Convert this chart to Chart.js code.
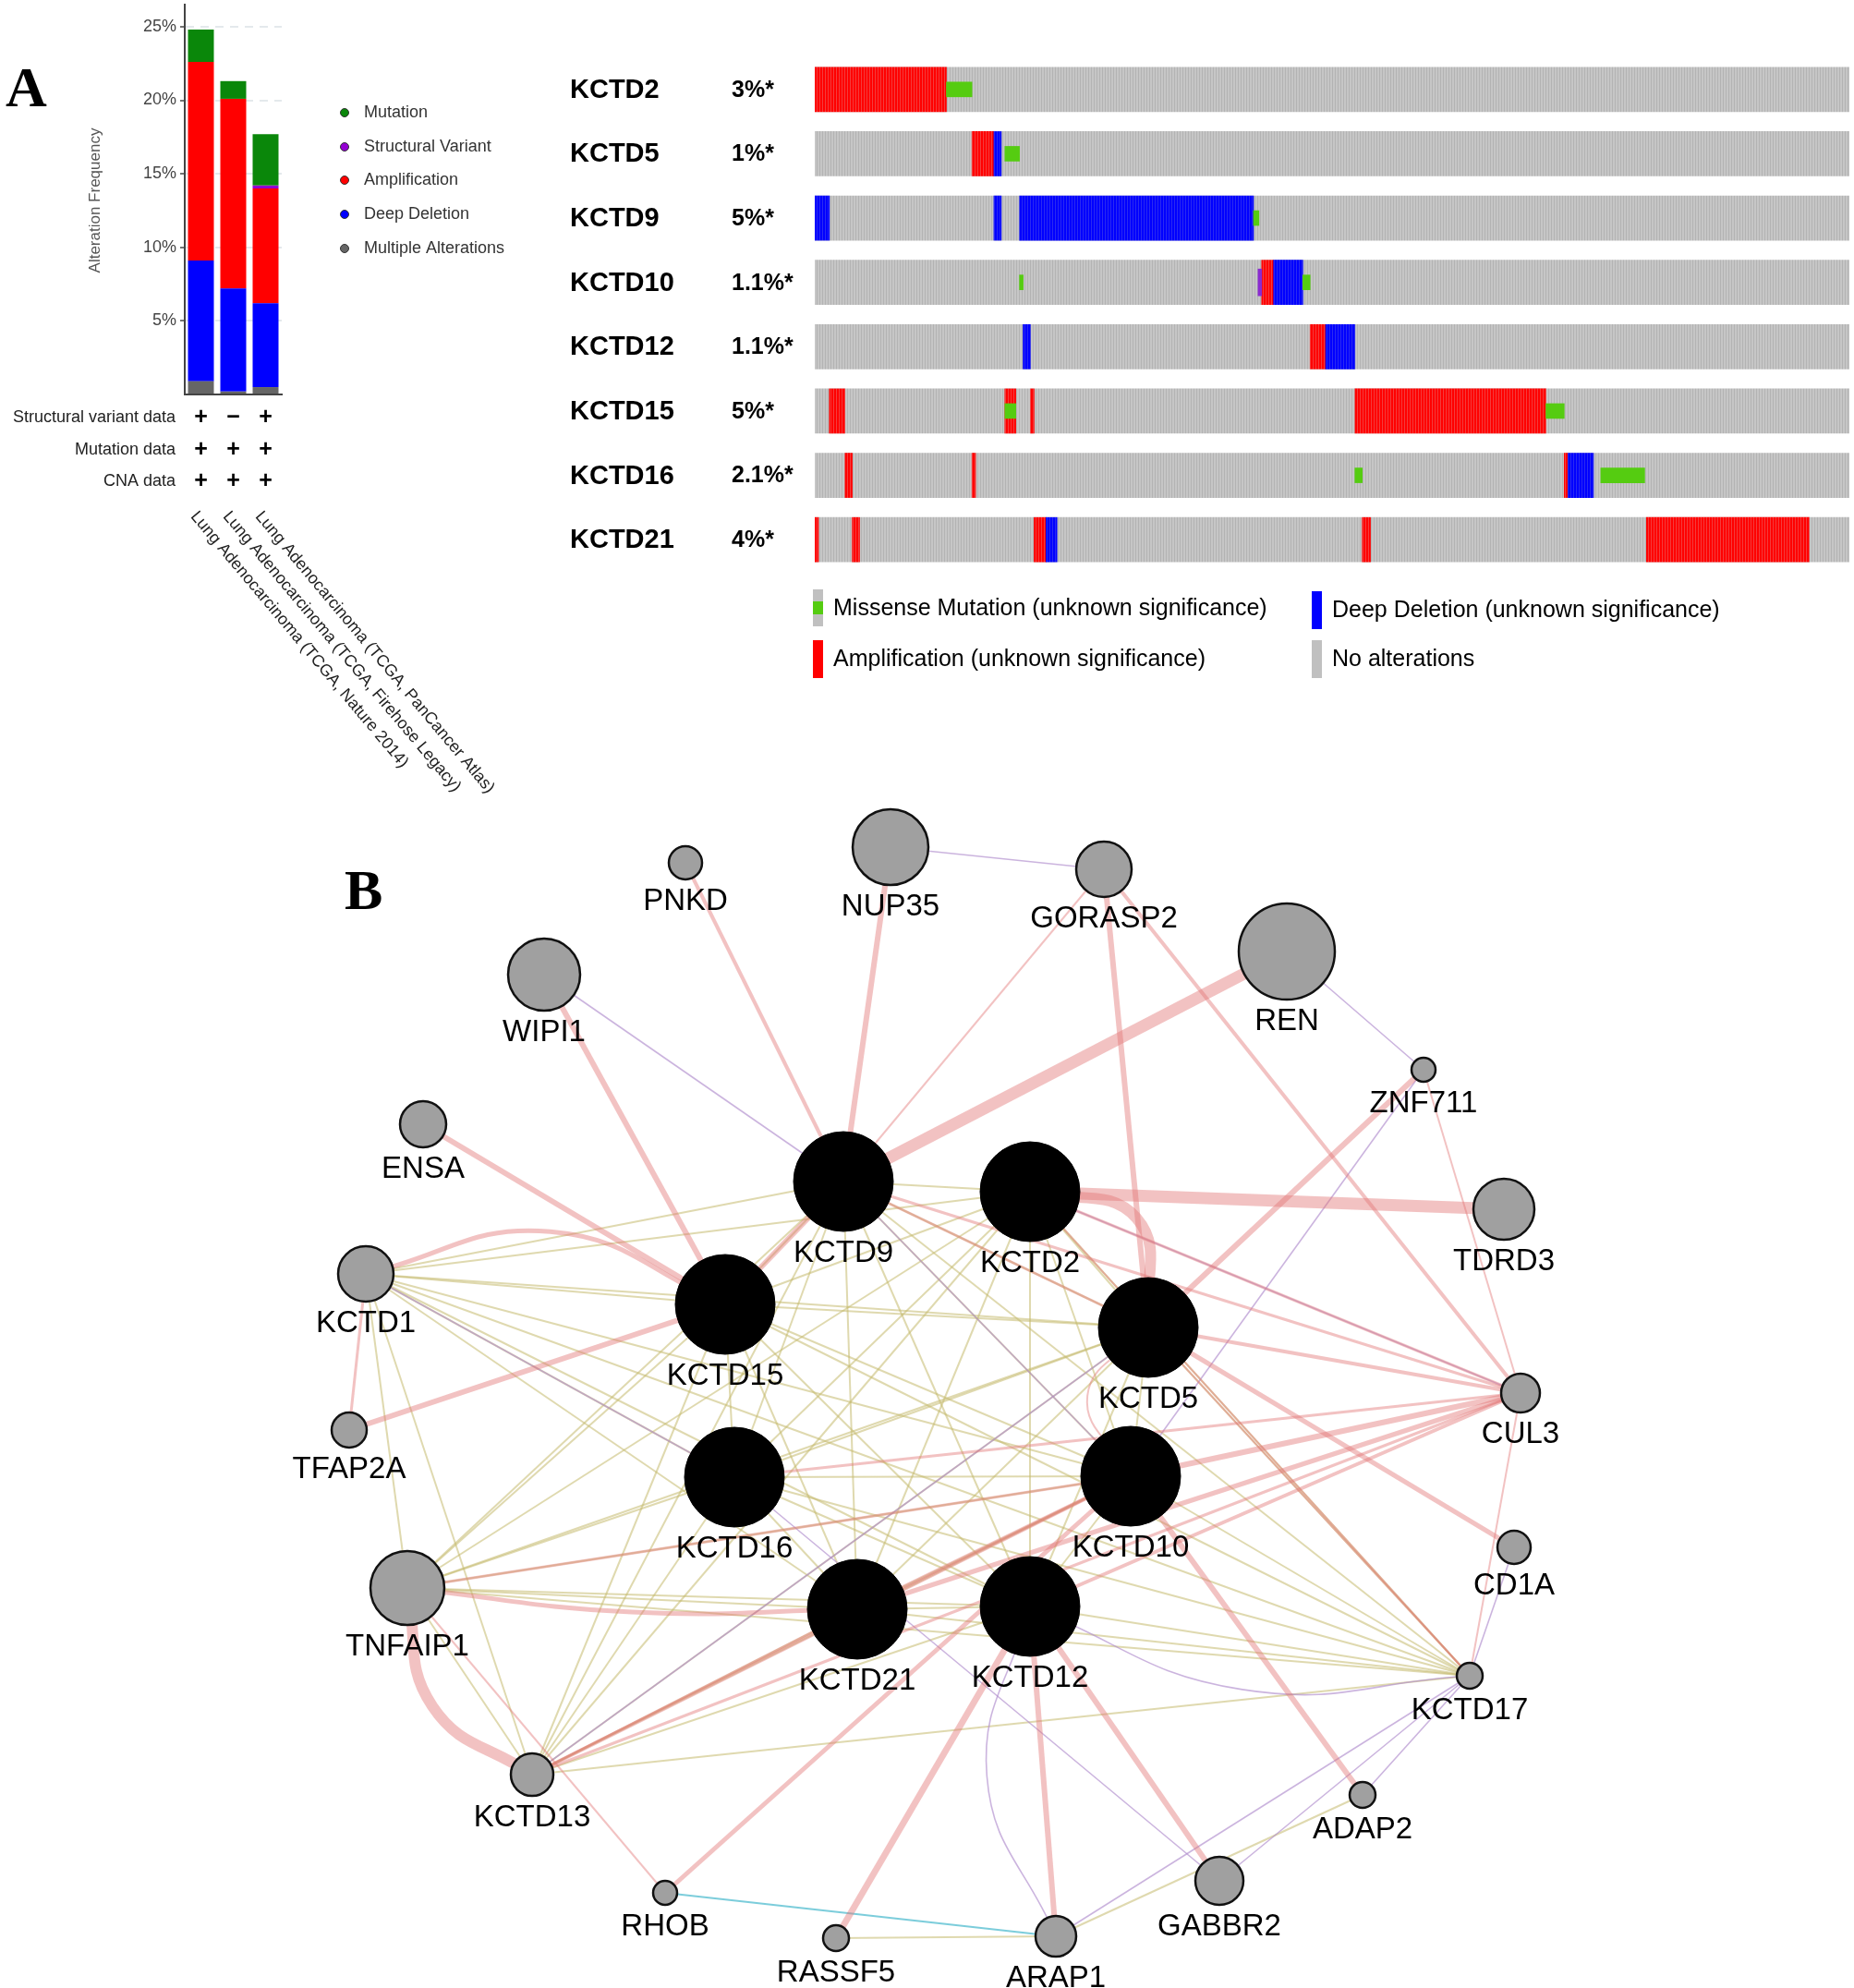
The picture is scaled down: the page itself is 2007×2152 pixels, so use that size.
<!DOCTYPE html>
<html>
<head>
<meta charset="utf-8">
<script src="https://cdn.jsdelivr.net/npm/chart.js@4.4.0/dist/chart.umd.min.js"></script>
<style>
html, body { margin: 0; padding: 0; background: #fff; }
body { width: 2007px; height: 2152px; position: relative; overflow: hidden; }
.box { position: absolute; }
</style>
</head>
<body>
<div class="box" style="left:0;top:0;width:600px;height:880px"><canvas id="freq" width="600" height="880"></canvas></div>
<div class="box" style="left:600px;top:40px;width:1407px;height:720px"><canvas id="onco" width="1407" height="720"></canvas></div>
<div class="box" style="left:300px;top:860px;width:1460px;height:1292px"><canvas id="net" width="1460" height="1292"></canvas></div>
<script>
// ---- panel A, cancer type summary ----
const studies = ['Lung Adenocarcinoma (TCGA, Nature 2014)', 'Lung Adenocarcinoma (TCGA, Firehose Legacy)', 'Lung Adenocarcinoma (TCGA, PanCancer Atlas)'];
const multipleAlt = [0.9, 0.2, 0.5];
const deepDeletion = [8.2, 7.0, 5.7];
const amplification = [13.5, 12.9, 7.8];
const structuralVariant = [0, 0, 0.2];
const mutation = [2.2, 1.2, 3.5];
const svProfiled = ['+', '-', '+'];
const mutProfiled = ['+', '+', '+'];
const cnaProfiled = ['+', '+', '+'];

// ---- panel A, oncoprint (sample index ranges, 566 samples) ----
const genes = ['KCTD2', 'KCTD5', 'KCTD9', 'KCTD10', 'KCTD12', 'KCTD15', 'KCTD16', 'KCTD21'];
const alteredPct = ['3%*', '1%*', '5%*', '1.1%*', '1.1%*', '5%*', '2.1%*', '4%*'];
const sampleCount = 566;
const ampRuns = [['KCTD2', 0, 72], ['KCTD5', 86, 98], ['KCTD10', 244.5, 251], ['KCTD12', 271, 279.5],
  ['KCTD15', 8, 16.5], ['KCTD15', 104, 110], ['KCTD15', 118, 120], ['KCTD15', 295.5, 400],
  ['KCTD16', 16.5, 20.5], ['KCTD16', 86, 88], ['KCTD16', 410, 412],
  ['KCTD21', 0, 2], ['KCTD21', 20.5, 24.5], ['KCTD21', 120, 126.5], ['KCTD21', 299.5, 304], ['KCTD21', 455, 544]];
const delRuns = [['KCTD5', 98, 102], ['KCTD9', 0, 8], ['KCTD9', 98, 102], ['KCTD9', 112, 240],
  ['KCTD10', 251, 267], ['KCTD12', 114, 118], ['KCTD12', 279.5, 295.5], ['KCTD16', 412, 426], ['KCTD21', 126.5, 132.5]];
const svRuns = [['KCTD10', 242.5, 244.5]];
const mutRuns = [['KCTD2', 72, 86], ['KCTD5', 104, 112], ['KCTD9', 240, 243], ['KCTD10', 112, 114], ['KCTD10', 267, 271],
  ['KCTD15', 104, 110], ['KCTD15', 400, 410], ['KCTD16', 295.5, 299.5], ['KCTD16', 430, 454]];

// ---- panel B, network ----
const nodeNames = ['PNKD','NUP35','GORASP2','REN','WIPI1','ZNF711','ENSA','KCTD9','KCTD2','TDRD3','KCTD1','KCTD15','KCTD5','CUL3','TFAP2A','KCTD16','KCTD10','CD1A','TNFAIP1','KCTD21','KCTD12','KCTD17','KCTD13','ADAP2','GABBR2','RHOB','RASSF5','ARAP1'];
const nodeX = [442,664,895,1093,289,1241,158,613,815,1328,96,485,943,1346,78,495,924,1339,141,628,815,1291,276,1175,1020,420,605,843];
const nodeY = [74,57,81,170,195,298,357,419,430,449,519,552,577,648,688,739,738,815,859,882,879,954,1061,1083,1176,1189,1238,1236];
const nodeScore = [18,41,30,52,39,13,25,54,54,33,30,54,54,21,19,54,54,18,40,54,54,14,23,14,26,13,14,22];

const physicalLinks = [
  ['PNKD','KCTD9',4], ['NUP35','KCTD9',6], ['WIPI1','KCTD15',6], ['ENSA','KCTD15',6],
  ['KCTD1','KCTD15',5,-0.16], ['KCTD1','TFAP2A',3], ['TFAP2A','KCTD15',6],
  ['GORASP2','KCTD9',2], ['GORASP2','KCTD5',6], ['GORASP2','CUL3',4], ['REN','KCTD9',13],
  ['ZNF711','KCTD5',6], ['ZNF711','CUL3',2], ['KCTD2','TDRD3',13], ['KCTD2','KCTD5',12,-0.35],
  ['KCTD2','CUL3',3], ['KCTD5','CUL3',4], ['KCTD5','CD1A',5], ['KCTD10','ADAP2',6], ['KCTD5','KCTD10',2,0.35],
  ['KCTD12','GABBR2',6], ['KCTD12','ARAP1',6], ['KCTD12','RASSF5',7], ['RHOB','KCTD10',5], ['TNFAIP1','RHOB',2],
  ['TNFAIP1','KCTD13',12,0.2], ['TNFAIP1','KCTD21',5,0.03], ['TNFAIP1','KCTD10',3], ['KCTD9','KCTD15',6],
  ['KCTD9','KCTD5',3], ['KCTD9','CUL3',3], ['KCTD10','CUL3',6], ['KCTD12','CUL3',4], ['KCTD21','CUL3',5],
  ['KCTD16','CUL3',3], ['KCTD13','KCTD10',4], ['KCTD13','CUL3',3], ['KCTD21','KCTD13',3], ['KCTD21','KCTD10',4],
  ['CUL3','KCTD17',2], ['KCTD2','KCTD17',2], ['KCTD5','KCTD17',2]
];
const coexpLinks = [
  ['WIPI1','KCTD9'], ['NUP35','GORASP2'], ['REN','ZNF711'], ['ZNF711','KCTD10'], ['KCTD1','KCTD16'],
  ['KCTD9','KCTD10'], ['KCTD16','GABBR2'], ['KCTD12','KCTD17',0.11], ['KCTD12','ARAP1',0.17],
  ['ARAP1','KCTD17'], ['GABBR2','KCTD17'], ['ADAP2','KCTD17'], ['CD1A','KCTD17'], ['KCTD2','CUL3'], ['KCTD13','KCTD5']
];
const domainLinks = [
  'KCTD1 KCTD2','KCTD1 KCTD5','KCTD1 KCTD9','KCTD1 KCTD10','KCTD1 KCTD12','KCTD1 KCTD13','KCTD1 KCTD15','KCTD1 KCTD16','KCTD1 KCTD17','KCTD1 KCTD21','KCTD1 TNFAIP1',
  'KCTD2 KCTD5','KCTD2 KCTD9','KCTD2 KCTD10','KCTD2 KCTD12','KCTD2 KCTD13','KCTD2 KCTD15','KCTD2 KCTD16','KCTD2 KCTD17','KCTD2 KCTD21','KCTD2 TNFAIP1',
  'KCTD5 KCTD9','KCTD5 KCTD10','KCTD5 KCTD12','KCTD5 KCTD13','KCTD5 KCTD15','KCTD5 KCTD16','KCTD5 KCTD17','KCTD5 KCTD21','KCTD5 TNFAIP1',
  'KCTD9 KCTD10','KCTD9 KCTD12','KCTD9 KCTD13','KCTD9 KCTD15','KCTD9 KCTD16','KCTD9 KCTD17','KCTD9 KCTD21','KCTD9 TNFAIP1',
  'KCTD10 KCTD12','KCTD10 KCTD13','KCTD10 KCTD15','KCTD10 KCTD16','KCTD10 KCTD17','KCTD10 KCTD21','KCTD10 TNFAIP1',
  'KCTD12 KCTD13','KCTD12 KCTD15','KCTD12 KCTD16','KCTD12 KCTD17','KCTD12 KCTD21','KCTD12 TNFAIP1',
  'KCTD13 KCTD15','KCTD13 KCTD16','KCTD13 KCTD17','KCTD13 KCTD21','KCTD13 TNFAIP1',
  'KCTD15 KCTD16','KCTD15 KCTD17','KCTD15 KCTD21','KCTD15 TNFAIP1',
  'KCTD16 KCTD17','KCTD16 KCTD21','KCTD16 TNFAIP1','KCTD17 KCTD21','KCTD17 TNFAIP1','KCTD21 TNFAIP1',
  'RASSF5 ARAP1','ARAP1 ADAP2'
];
const pathwayLinks = [['RHOB','ARAP1']];

const SANS = '"Liberation Sans", Arial, sans-serif';
const SERIF = '"Liberation Serif", "Times New Roman", serif';

// ================= panel A bar chart =================
const freqText = {
  id: 'freqText',
  afterDraw(chart) {
    const ctx = chart.ctx, xs = chart.scales.x;
    ctx.save();
    ctx.fillStyle = '#000';
    ctx.font = 'bold 62px ' + SERIF;
    ctx.textAlign = 'left';
    ctx.textBaseline = 'alphabetic';
    ctx.fillText('A', 6, 115);

    ctx.save();
    ctx.translate(103, 217);
    ctx.rotate(-Math.PI / 2);
    ctx.font = '17px ' + SANS;
    ctx.fillStyle = '#555';
    ctx.textAlign = 'center';
    ctx.textBaseline = 'middle';
    ctx.fillText('Alteration Frequency', 0, 0);
    ctx.restore();

    // legend
    const ds = chart.data.datasets.slice().reverse();
    const ly = [122, 159, 195, 232, 269];
    ctx.font = '18px ' + SANS;
    ctx.textBaseline = 'middle';
    ds.forEach((d, i) => {
      ctx.beginPath();
      ctx.arc(373, ly[i], 4.5, 0, Math.PI * 2);
      ctx.fillStyle = d.backgroundColor;
      ctx.fill();
      ctx.lineWidth = 1;
      ctx.strokeStyle = '#333';
      ctx.stroke();
      ctx.fillStyle = '#333';
      ctx.fillText(d.label, 394, ly[i]);
    });

    // profiled rows
    const rows = [['Structural variant data', svProfiled, 452], ['Mutation data', mutProfiled, 487], ['CNA data', cnaProfiled, 521]];
    rows.forEach(r => {
      ctx.font = '18px ' + SANS;
      ctx.fillStyle = '#222';
      ctx.textAlign = 'right';
      ctx.fillText(r[0], 190, r[2]);
      ctx.font = 'bold 25px ' + SANS;
      ctx.fillStyle = '#000';
      ctx.textAlign = 'center';
      r[1].forEach((s, i) => {
        ctx.fillText(s === '+' ? '+' : '\u2212', xs.getPixelForValue(i), r[2]);
      });
    });

    // rotated study names
    ctx.font = '18px ' + SANS;
    ctx.fillStyle = '#222';
    ctx.textAlign = 'left';
    ctx.textBaseline = 'middle';
    studies.forEach((s, i) => {
      ctx.save();
      ctx.translate(xs.getPixelForValue(i) - 8, 556);
      ctx.rotate(50 * Math.PI / 180);
      ctx.fillText(s, 0, 0);
      ctx.restore();
    });
    ctx.restore();
  }
};

const tickOn = v => v > 0 && Math.abs(v % 5) < 1e-6;
new Chart(document.getElementById('freq'), {
  type: 'bar',
  data: {
    labels: studies,
    datasets: [
      { label: 'Multiple Alterations', data: multipleAlt, backgroundColor: '#666666' },
      { label: 'Deep Deletion', data: deepDeletion, backgroundColor: '#0000ff' },
      { label: 'Amplification', data: amplification, backgroundColor: '#ff0000' },
      { label: 'Structural Variant', data: structuralVariant, backgroundColor: '#9400d3' },
      { label: 'Mutation', data: mutation, backgroundColor: '#0a870a' }
    ]
  },
  options: {
    responsive: false,
    animation: false,
    datasets: { bar: { barPercentage: 0.8, categoryPercentage: 1, borderWidth: 0 } },
    layout: { padding: { left: 0, right: 295, top: 5, bottom: 453 } },
    plugins: { legend: { display: false }, tooltip: { enabled: false } },
    scales: {
      x: {
        stacked: true,
        grid: { display: false, drawTicks: false },
        ticks: { display: false },
        border: { display: true, color: '#444', width: 2 },
        afterFit(s) { s.height = 0; }
      },
      y: {
        stacked: true,
        min: 0,
        max: 26.5,
        afterFit(s) { s.width = 200; s.paddingTop = 0; s.paddingBottom = 0; },
        ticks: {
          stepSize: 5,
          padding: 4,
          color: '#444',
          font: { size: 18, family: SANS },
          callback: v => tickOn(v) ? v + '%' : ''
        },
        grid: {
          color: c => (c.tick && tickOn(c.tick.value)) ? '#e4e9ec' : 'rgba(0,0,0,0)',
          tickColor: c => (c.tick && tickOn(c.tick.value)) ? '#444' : 'rgba(0,0,0,0)',
          lineWidth: 2,
          tickLength: 5,
          tickWidth: 1.5
        },
        border: { display: true, color: '#444', width: 2, dash: [9, 7] }
      }
    }
  },
  plugins: [freqText]
});

// ================= panel A oncoprint =================
const oncoCanvas = document.getElementById('onco');
function stripes(ctx2, base, line) {
  const c = document.createElement('canvas');
  c.width = 3; c.height = 4;
  const g = c.getContext('2d');
  g.fillStyle = base; g.fillRect(0, 0, 3, 4);
  g.fillStyle = line; g.fillRect(2, 0, 1, 4);
  return ctx2.createPattern(c, 'repeat');
}
const octx = oncoCanvas.getContext('2d');
const grayFill = stripes(octx, '#c6c6c6', '#b3b3b3');
const redFill = stripes(octx, '#ff0000', '#f43c3c');
const blueFill = stripes(octx, '#0000ff', '#2a2af2');
const toBars = runs => runs.map(r => ({ y: r[0], x: [r[1], r[2]] }));

const oncoText = {
  id: 'oncoText',
  afterDraw(chart) {
    const ctx = chart.ctx, ys = chart.scales.y;
    ctx.save();
    ctx.fillStyle = '#000';
    ctx.textBaseline = 'middle';
    ctx.textAlign = 'left';
    genes.forEach((g, i) => {
      const y = ys.getPixelForValue(i);
      ctx.font = 'bold 29px ' + SANS;
      ctx.fillText(g, 17, y + 1);
      ctx.font = 'bold 25px ' + SANS;
      ctx.fillText(alteredPct[i], 192, y + 1);
    });
    // legend
    const items = [
      ['Missense Mutation (unknown significance)', 280, 598, 'mut'],
      ['Deep Deletion (unknown significance)', 820, 600, '#0000ff'],
      ['Amplification (unknown significance)', 280, 653, '#ff0000'],
      ['No alterations', 820, 653, '#c0c0c0']
    ];
    ctx.font = '25px ' + SANS;
    items.forEach(it => {
      if (it[3] === 'mut') {
        ctx.fillStyle = '#c0c0c0';
        ctx.fillRect(it[1], it[2], 11, 40);
        ctx.fillStyle = '#55cc11';
        ctx.fillRect(it[1], it[2] + 13, 11, 14);
      } else {
        ctx.fillStyle = it[3];
        ctx.fillRect(it[1], it[2], 11, 41);
      }
      ctx.fillStyle = '#000';
      ctx.fillText(it[0], it[1] + 22, it[2] + 21);
    });
    ctx.restore();
  }
};

// lower order is drawn on top
new Chart(oncoCanvas, {
  type: 'bar',
  data: {
    labels: genes,
    datasets: [
      { label: 'No alterations', data: genes.map(g => ({ y: g, x: [0, sampleCount] })), backgroundColor: grayFill, barThickness: 48, order: 5 },
      { label: 'Amplification', data: toBars(ampRuns), backgroundColor: redFill, barThickness: 48, order: 4 },
      { label: 'Deep Deletion', data: toBars(delRuns), backgroundColor: blueFill, barThickness: 48, order: 3 },
      { label: 'Structural Variant', data: toBars(svRuns), backgroundColor: '#8a2bd0', barThickness: 29, order: 2 },
      { label: 'Missense Mutation', data: toBars(mutRuns), backgroundColor: '#55cc11', barThickness: 16, order: 1 }
    ]
  },
  options: {
    indexAxis: 'y',
    responsive: false,
    animation: false,
    datasets: { bar: { grouped: false, borderWidth: 0 } },
    layout: { padding: { left: 282, right: 5, top: 22, bottom: 141 } },
    plugins: { legend: { display: false }, tooltip: { enabled: false } },
    scales: {
      x: { type: 'linear', min: 0, max: sampleCount, display: false },
      y: { type: 'category', display: false }
    }
  },
  plugins: [oncoText]
});

// ================= panel B network =================
const nodeIndex = {};
nodeNames.forEach((n, i) => nodeIndex[n] = i);

function edgeDataset(a, b, color, width, bend, order) {
  const i = nodeIndex[a], j = nodeIndex[b];
  const p = { x: nodeX[i], y: nodeY[i] }, q = { x: nodeX[j], y: nodeY[j] };
  let pts = [p, q];
  if (bend) {
    const mx = (p.x + q.x) / 2 - bend * (q.y - p.y);
    const my = (p.y + q.y) / 2 + bend * (q.x - p.x);
    pts = [p, { x: mx, y: my }, q];
  }
  return {
    type: 'line', data: pts, borderColor: color, borderWidth: width, clip: false,
    pointRadius: 0, fill: false, tension: bend ? 0.45 : 0, order: order
  };
}

const edgeSets = [];
domainLinks.forEach(s => { const [a, b] = s.split(' '); edgeSets.push(edgeDataset(a, b, 'rgba(196,186,110,0.55)', 2, 0, 6)); });
coexpLinks.forEach(l => edgeSets.push(edgeDataset(l[0], l[1], 'rgba(175,140,205,0.65)', 1.6, l[2] || 0, 5)));
pathwayLinks.forEach(l => edgeSets.push(edgeDataset(l[0], l[1], 'rgba(110,200,215,0.9)', 2, 0, 5)));
physicalLinks.forEach(l => edgeSets.push(edgeDataset(l[0], l[1], 'rgba(226,120,120,0.45)', l[2], l[3] || 0, 4)));

const queryNodes = [], otherNodes = [];
nodeNames.forEach((n, i) => {
  const pt = { x: nodeX[i], y: nodeY[i], r: nodeScore[i] };
  (genes.includes(n) ? queryNodes : otherNodes).push(pt);
});

const netText = {
  id: 'netText',
  afterDraw(chart) {
    const ctx = chart.ctx, xs = chart.scales.x, ys = chart.scales.y;
    ctx.save();
    ctx.fillStyle = '#000';
    ctx.font = 'bold 62px ' + SERIF;
    ctx.textAlign = 'left';
    ctx.textBaseline = 'alphabetic';
    ctx.fillText('B', 73, 124);
    ctx.font = '33px ' + SANS;
    ctx.textAlign = 'center';
    ctx.textBaseline = 'middle';
    nodeNames.forEach((n, i) => {
      ctx.fillText(n, xs.getPixelForValue(nodeX[i]), ys.getPixelForValue(nodeY[i]) + nodeScore[i] + 24);
    });
    ctx.restore();
  }
};

const netCanvas = document.getElementById('net');
const net = new Chart(netCanvas, {
  type: 'bubble',
  data: {
    datasets: [
      ...edgeSets,
      { label: 'genes', data: otherNodes, backgroundColor: '#a0a0a0', borderColor: '#111', borderWidth: 2.5, order: 1, clip: false },
      { label: 'query', data: queryNodes, backgroundColor: '#000', borderColor: '#000', borderWidth: 1, order: 0, clip: false }
    ]
  },
  options: {
    responsive: false,
    animation: false,
    layout: { padding: 0 },
    plugins: { legend: { display: false }, tooltip: { enabled: false } },
    scales: {
      x: { type: 'linear', min: 0, max: netCanvas.width, display: false },
      y: { type: 'linear', min: 0, max: netCanvas.height, reverse: true, display: false }
    }
  },
  plugins: [netText]
});
// bubbles reserve padding around the plot; map layout units 1:1 to canvas pixels
const area = net.chartArea;
net.options.scales.x.min = area.left;
net.options.scales.x.max = area.right;
net.options.scales.y.min = area.top;
net.options.scales.y.max = area.bottom;
net.update();
</script>
</body>
</html>
